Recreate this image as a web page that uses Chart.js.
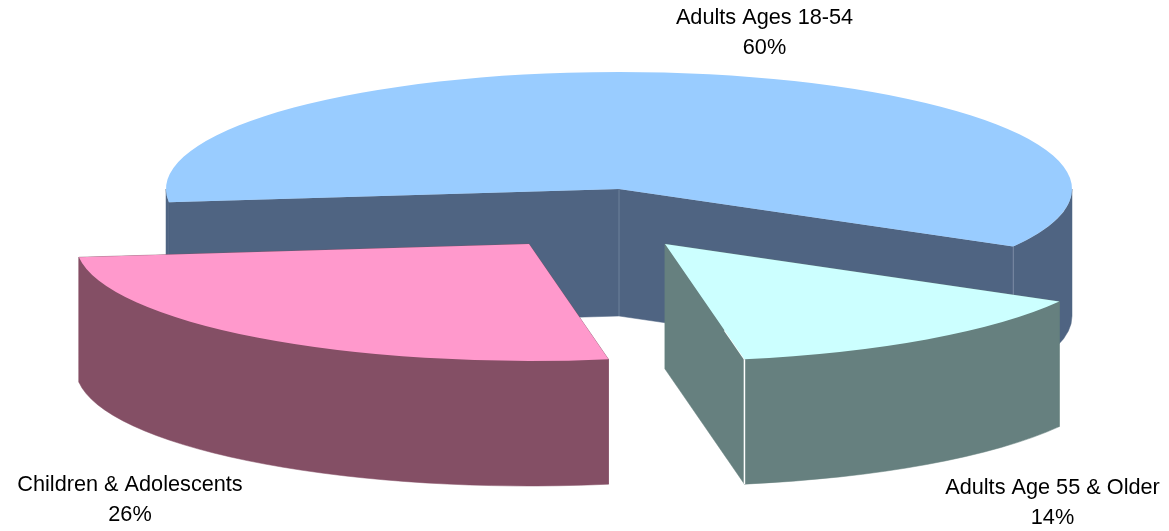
<!DOCTYPE html>
<html>
<head>
<meta charset="utf-8">
<style>html,body{margin:0;padding:0;background:#fff}canvas{display:block}</style>
<script src="https://cdn.jsdelivr.net/npm/chart.js@4"></script>
</head>
<body>
<canvas id="c" width="1169" height="531"></canvas>
<script>
const categories = ['Adults Ages 18-54', 'Adults Age 55 & Older', 'Children & Adolescents'];
const shares = [60, 14, 26];
const topColors = ['#99CCFF', '#CCFFFF', '#FF99CC'];
const wallColors = ['#4F6482', '#66807F', '#844F65'];

const view = {
  flatten: 117 / 453,
  depth: [127, 125, 125],
  explodeX: [0, 46, -90],
  explodeY: [0, 55, 55],
  labelX: [764.5, 1052.5, 130],
  labelY: [18, 488, 485],
  lineGap: 30,
  seamEnd: ['#7C8CA4', '#FFFFFF', null],
  seamCentre: ['#6F819B', null, null]
};

const pie3d = {
  id: 'pie3d',
  beforeDatasetsDraw(chart) {
    const ctx = chart.ctx;
    const arcs = chart.getDatasetMeta(0).data;
    const paintOrder = [0, 2, 1];
    paintOrder.forEach(i => {
      const arc = arcs[i];
      const R = arc.outerRadius;
      const b = R * view.flatten;
      const cx = arc.x + view.explodeX[i];
      const cy = arc.y + view.explodeY[i];
      const d = view.depth[i];
      ctx.save();
      ctx.fillStyle = wallColors[i];
      ctx.strokeStyle = wallColors[i];
      ctx.lineWidth = 0.5;
      [arc.startAngle, arc.endAngle].forEach(a => {
        const px = cx + R * Math.cos(a), py = cy + b * Math.sin(a);
        ctx.beginPath();
        ctx.moveTo(cx, cy); ctx.lineTo(px, py);
        ctx.lineTo(px, py + d); ctx.lineTo(cx, cy + d);
        ctx.closePath(); ctx.fill(); ctx.stroke();
      });
      for (let n = -1; n <= 2; n++) {
        const lo = Math.max(arc.startAngle, 2 * Math.PI * n);
        const hi = Math.min(arc.endAngle, 2 * Math.PI * n + Math.PI);
        if (hi <= lo) continue;
        ctx.beginPath();
        ctx.ellipse(cx, cy, R, b, 0, lo, hi);
        ctx.ellipse(cx, cy + d, R, b, 0, hi, lo, true);
        ctx.closePath(); ctx.fill(); ctx.stroke();
      }
      if (view.seamCentre[i]) {
        ctx.strokeStyle = view.seamCentre[i]; ctx.lineWidth = 1;
        ctx.beginPath(); ctx.moveTo(cx, cy); ctx.lineTo(cx, cy + d); ctx.stroke();
      }
      if (view.seamEnd[i]) {
        const px = cx + R * Math.cos(arc.endAngle), py = cy + b * Math.sin(arc.endAngle);
        ctx.strokeStyle = view.seamEnd[i]; ctx.lineWidth = i === 0 ? 1 : 1.5;
        ctx.beginPath(); ctx.moveTo(px, py); ctx.lineTo(px, py + d); ctx.stroke();
        if (i === 1) {
          ctx.beginPath(); ctx.moveTo(px, py);
          ctx.lineTo(px + (cx - px) * 0.25, py + (cy - py) * 0.25); ctx.stroke();
        }
      }
      ctx.translate(view.explodeX[i], arc.y + view.explodeY[i]);
      ctx.scale(1, view.flatten);
      ctx.translate(0, -arc.y);
      arc.draw(ctx);
      ctx.restore();
    });
    return false;
  },
  afterDraw(chart) {
    const ctx = chart.ctx;
    ctx.save();
    ctx.fillStyle = '#000';
    ctx.font = '21.7px "Liberation Sans", Arial, sans-serif';
    ctx.textAlign = 'center';
    ctx.textBaseline = 'middle';
    categories.forEach((name, i) => {
      ctx.fillText(name, view.labelX[i], view.labelY[i]);
      ctx.fillText(shares[i] + '%', view.labelX[i], view.labelY[i] + view.lineGap);
    });
    ctx.restore();
  }
};

new Chart(document.getElementById('c'), {
  type: 'pie',
  data: {
    labels: categories,
    datasets: [{ data: shares, backgroundColor: topColors, borderWidth: 0 }]
  },
  options: {
    responsive: false,
    animation: false,
    rotation: 263.5,
    radius: 453,
    layout: { padding: { left: 69, bottom: 153 } },
    plugins: { legend: { display: false }, tooltip: { enabled: false } }
  },
  plugins: [pie3d]
});
</script>
</body>
</html>
